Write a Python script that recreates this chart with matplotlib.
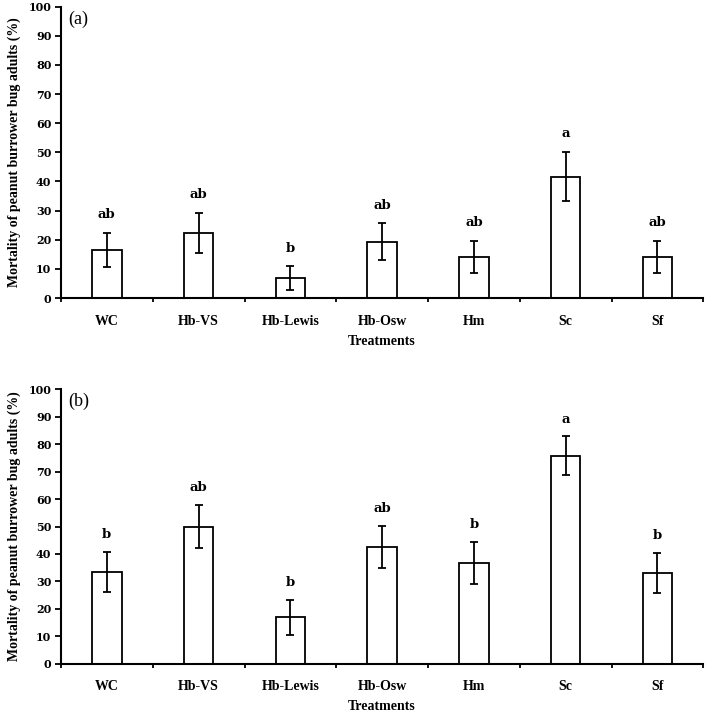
import matplotlib.pyplot as plt
import numpy as np

treatments = ['WC', 'Hb-VS', 'Hb-Lewis', 'Hb-Osw', 'Hm', 'Sc', 'Sf']

# panel (a)
mort_a = [16.6, 22.4, 6.8, 19.3, 14.1, 41.7, 14.2]
err_a = [5.8, 6.8, 4.1, 6.4, 5.5, 8.4, 5.5]
letters_a = ['ab', 'ab', 'b', 'ab', 'ab', 'a', 'ab']

# panel (b)
mort_b = [33.3, 50.0, 17.0, 42.5, 36.8, 75.7, 33.2]
err_b = [7.3, 7.8, 6.4, 7.7, 7.7, 7.1, 7.3]
letters_b = ['b', 'ab', 'b', 'ab', 'b', 'a', 'b']

serif = ['Liberation Serif', 'DejaVu Serif']
wide = ['DejaVu Serif']


def draw_panel(ax, vals, errs, letters, tag):
    x = np.arange(len(treatments))
    ax.bar(x, vals, width=0.32, color='white', edgecolor='black', linewidth=1.3, zorder=2)
    ax.errorbar(x, vals, yerr=errs, fmt='none', ecolor='black', elinewidth=1.3,
                capsize=2.8, capthick=1.3, zorder=3)
    for xi, v, e, lab in zip(x, vals, errs, letters):
        ax.text(xi, v + e + 4, lab, ha='center', va='bottom', fontsize=9.5,
                fontweight='bold', family=wide)

    ax.set_xlim(-0.5, len(treatments) - 0.5)
    ax.set_ylim(0, 100)
    ax.set_yticks(np.arange(0, 101, 10))
    ax.set_xticks(np.arange(-0.5, len(treatments), 1.0))
    ax.set_xticklabels([])
    ax.set_xticks(x, minor=True)
    ax.set_xticklabels(treatments, minor=True, fontsize=10, fontweight='bold', family=serif)
    ax.tick_params(axis='x', which='minor', length=0, pad=12)
    ax.tick_params(axis='x', which='major', length=3, width=1.3, direction='out')
    ax.tick_params(axis='y', length=4, width=1.3, direction='out', pad=3)
    for t in ax.get_yticklabels():
        t.set_fontsize(8)
        t.set_fontweight('bold')
        t.set_family(wide)

    for s in ['top', 'right']:
        ax.spines[s].set_visible(False)
    for s in ['left', 'bottom']:
        ax.spines[s].set_linewidth(1.5)

    ax.set_xlabel('Treatments', fontsize=10, fontweight='bold', family=serif, labelpad=5)
    ax.set_ylabel('Mortality of peanut burrower bug adults (%)', fontsize=10,
                  fontweight='bold', family=serif, labelpad=5)
    ax.text(0.011, 0.988, tag, transform=ax.transAxes, ha='left', va='top',
            fontsize=13, family=serif)


fig = plt.figure(figsize=(7.09, 7.14), dpi=100)
ax1 = fig.add_axes([0.086, 0.5826, 0.906, 0.408])
ax2 = fig.add_axes([0.086, 0.0704, 0.906, 0.3844])

draw_panel(ax1, mort_a, err_a, letters_a, '(a)')
draw_panel(ax2, mort_b, err_b, letters_b, '(b)')

fig.savefig('out.png', dpi=100)
